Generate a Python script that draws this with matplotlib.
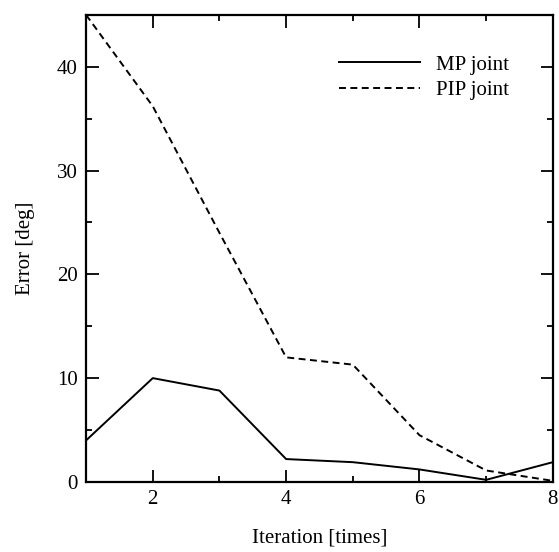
import matplotlib
matplotlib.use("Agg")
import matplotlib.pyplot as plt

plt.rcParams['font.family'] = ['Liberation Serif', 'DejaVu Serif']
plt.rcParams['font.size'] = 15
plt.rcParams['lines.scale_dashes'] = False

iteration = [1, 2, 3, 4, 5, 6, 7, 8]
mp_joint = [4.0, 10.0, 8.8, 2.2, 1.9, 1.2, 0.2, 1.9]
pip_joint = [45.0, 36.2, 24.0, 12.0, 11.3, 4.5, 1.1, 0.1]

fig = plt.figure(figsize=(5.59, 5.52), dpi=100)
ax = fig.add_axes([0.154, 0.127, 0.835, 0.846])

ax.plot(iteration, mp_joint, color='black', lw=1.4, label='MP joint')
ax.plot(iteration, pip_joint, color='black', lw=1.4, dashes=(5, 3.2), label='PIP joint')

ax.set_xlim(1, 8)
ax.set_ylim(0, 45)
ax.set_xticks([2, 4, 6, 8])
ax.set_xticks([1, 3, 5, 7], minor=True)
ax.set_yticks([0, 10, 20, 30, 40])
ax.set_yticks([5, 15, 25, 35, 45], minor=True)
ax.tick_params(which='both', direction='in', top=True, right=True, width=1.3, colors='black')
ax.tick_params(which='major', length=9, pad=6)
ax.tick_params(which='minor', length=4.5)
for s in ax.spines.values():
    s.set_linewidth(1.6)

ax.set_xlabel('Iteration [times]', labelpad=14)
ax.set_ylabel('Error [deg]', labelpad=16)

ax.legend(loc='upper left', bbox_to_anchor=(0.542, 0.914), frameon=False,
          handlelength=3.9, handletextpad=0.75, labelspacing=0.3,
          borderpad=0, borderaxespad=0, fontsize=15)

fig.savefig('out.png', dpi=100)
